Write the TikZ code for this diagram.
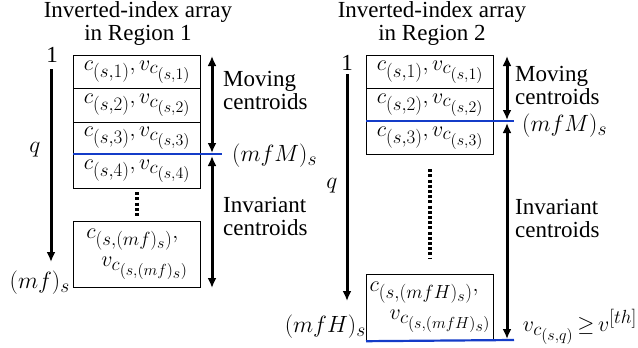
\RequirePackage{fix-cm}
\documentclass[tikz,border=0pt]{standalone}
\usepackage{fontspec}
\setmainfont{Liberation Serif}
\DeclareMathSizes{22}{22}{19}{16}
\DeclareMathSizes{23.5}{23.5}{19.5}{16.5}
\usetikzlibrary{arrows.meta}
\definecolor{lineblue}{RGB}{20,60,200}
\begin{document}
\begin{tikzpicture}[x=1pt,y=-1pt,
  cell/.style={draw=black, line width=1.2pt, minimum width=127pt, inner sep=0pt, anchor=north west, font=\fontsize{22}{28}\selectfont},
  lbl/.style={font=\fontsize{23}{23}\selectfont, inner sep=0pt},
  mlbl/.style={font=\fontsize{23.5}{26}\selectfont, inner sep=0pt},
  arr/.style={line width=3pt, -{Latex[length=10pt,width=9pt]}},
  darr/.style={line width=3pt, {Latex[length=10pt,width=9pt]}-{Latex[length=10pt,width=9pt]}},
  bluel/.style={draw=lineblue, line width=2.2pt},
  dotsl/.style={line width=3.4pt, dash pattern=on 3pt off 2.2pt}]
\useasboundingbox (0,0) rectangle (638,348);

% ---------- Region 1 ----------
\node[lbl] (T1a) at (138,12) {Inverted-index array};
\node[lbl] (T1b) at (138,35) {in Region 1};

\node[cell, minimum height=33pt] (La) at (73,55) {$c_{(s,1)}, v_{c_{(s,1)}}$};
\node[cell, minimum height=34pt] (Lb) at (73,88) {$c_{(s,2)}, v_{c_{(s,2)}}$};
\node[cell, minimum height=32pt] (Lc) at (73,122) {$c_{(s,3)}, v_{c_{(s,3)}}$};
\node[cell, minimum height=34pt] (Ld) at (73,154) {$c_{(s,4)}, v_{c_{(s,4)}}$};
\node[cell, minimum height=66pt, align=left] (Le) at (73,221) {$c_{(s,(mf)_s)},$\\\hspace*{15pt}$v_{c_{(s,(mf)_s)}}$};

\draw[dotsl, shorten <=3pt, shorten >=4pt] (Ld.south) -- (Le.north);

\node[lbl] (L1) at (52,55) {1};
\node[mlbl] (Lq) at (35,150) {$q$};
\node[mlbl, anchor=east] (Lmf) at (70,283) {$(mf)_s$};
\coordinate (Lqs) at (51,69);
\coordinate (Lqe) at (51,262);
\draw[arr] (Lqs) -- (Lqe);

\coordinate (LmA) at (212,56);
\coordinate (LmB) at (212,153);
\coordinate (LiA) at (212,156);
\coordinate (LiB) at (212,288);
\draw[darr] (LmA) -- (LmB);
\draw[darr] (LiA) -- (LiB);

\coordinate (LbE) at (222,154);
\draw[bluel] (Ld.north west) -- (LbE);

\node[lbl, anchor=west, align=left] (Lmov) at (223,90) {Moving\\centroids};
\node[mlbl, anchor=west] (LmfM) at (232,156) {$(mfM)_s$};
\node[lbl, anchor=west, align=left] (Linv) at (223,216) {Invariant\\centroids};

% ---------- Region 2 ----------
\node[lbl] (T2a) at (432,12) {Inverted-index array};
\node[lbl] (T2b) at (432,35) {in Region 2};

\node[cell, minimum height=33pt] (Ra) at (366,55) {$c_{(s,1)}, v_{c_{(s,1)}}$};
\node[cell, minimum height=33pt] (Rb) at (366,88) {$c_{(s,2)}, v_{c_{(s,2)}}$};
\node[cell, minimum height=33pt] (Rc) at (366,121) {$c_{(s,3)}, v_{c_{(s,3)}}$};
\node[cell, minimum height=66pt, align=left] (Re) at (366,274) {$c_{(s,(mfH)_s)},$\\\hspace*{20pt}$v_{c_{(s,(mfH)_s)}}$};

\draw[dotsl, shorten <=14pt, shorten >=16pt] (Rc.south) -- (Re.north);

\node[lbl] (R1) at (347,63) {1};
\node[mlbl] (Rq) at (332,186) {$q$};
\node[mlbl, anchor=east] (RmfH) at (366,327) {$(mfH)_s$};
\coordinate (Rqs) at (347,74);
\coordinate (Rqe) at (347,301);
\draw[arr] (Rqs) -- (Rqe);

\coordinate (RmA) at (507,56);
\coordinate (RmB) at (507,120);
\coordinate (RiA) at (507,123);
\coordinate (RiB) at (507,339);
\draw[darr] (RmA) -- (RmB);
\draw[darr] (RiA) -- (RiB);

\coordinate (RbE) at (514,121);
\coordinate (RbF) at (514,340);
\draw[bluel] (Rc.north west) -- (RbE);
\draw[bluel] (Re.south west) -- (RbF);

\node[lbl, anchor=west, align=left] (Rmov) at (515,85) {Moving\\centroids};
\node[mlbl, anchor=west] (RmfM) at (522,126) {$(mfM)_s$};
\node[lbl, anchor=west, align=left] (Rinv) at (515,218) {Invariant\\centroids};
\node[inner sep=0pt, anchor=east, font=\fontsize{22}{24}\selectfont] (Rth) at (637,327) {$v_{c_{(s,q)}}\,{\geq}\,v^{[th]}$};
\end{tikzpicture}
\end{document}
